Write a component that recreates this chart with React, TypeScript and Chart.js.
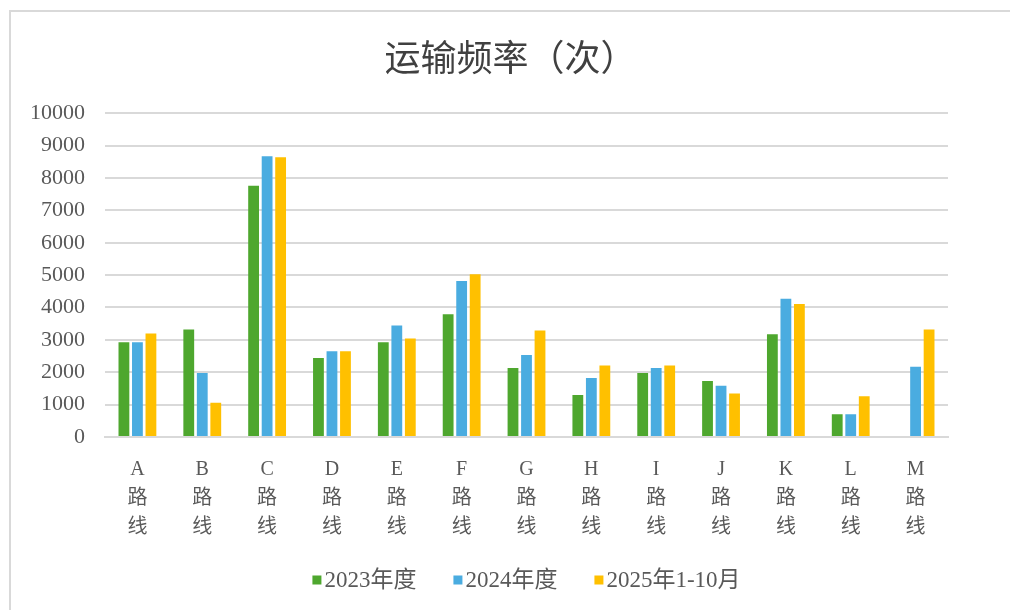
import React, { useEffect, useRef } from "react";
import { Chart, registerables } from "chart.js";

Chart.register(...registerables);

const routes = ["A", "B", "C", "D", "E", "F", "G", "H", "I", "J", "K", "L", "M"];
const routeSuffix = ["路", "线"];
const seriesNames = ["2023年度", "2024年度", "2025年1-10月"];
const values2023 = [2930, 3320, 7760, 2440, 2930, 3790, 2130, 1300, 1980, 1730, 3170, 700, null];
const values2024 = [2930, 1980, 8670, 2650, 3440, 4820, 2530, 1820, 2130, 1580, 4270, 700, 2170];
const values2025 = [3200, 1060, 8640, 2650, 3040, 5030, 3290, 2210, 2210, 1340, 4110, 1260, 3320];
const seriesColors = ["#4EA72E", "#4AACE0", "#FFC000"];
const titleText = "运输频率（次）";

const serif = '"Liberation Serif", "Noto Sans CJK SC", serif';

const customLegend = {
  id: "customLegend",
  afterDraw(chart: any) {
    const ctx = chart.ctx as CanvasRenderingContext2D;
    ctx.save();
    ctx.font = `23px ${serif}`;
    ctx.textBaseline = "middle";
    ctx.textAlign = "left";
    const box = 9;
    const gap = 3;
    const spacing = 37;
    const items = chart.data.datasets.map((d: any) => ({
      text: d.label as string,
      color: d.backgroundColor as string,
      w: ctx.measureText(d.label).width,
    }));
    const total =
      items.reduce((s: number, it: any) => s + box + gap + it.w, 0) + spacing * (items.length - 1);
    const area = chart.chartArea;
    let x = (area.left + area.right) / 2 - total / 2;
    const y = 568;
    for (const it of items) {
      ctx.fillStyle = it.color;
      ctx.fillRect(x, y - box / 2, box, box);
      x += box + gap;
      ctx.fillStyle = "#595959";
      ctx.fillText(it.text, x, y + 1);
      x += it.w + spacing;
    }
    ctx.restore();
  },
};

export default function App() {
  const ref = useRef<HTMLCanvasElement | null>(null);

  useEffect(() => {
    document.body.style.overflow = "hidden";
    const canvas = ref.current;
    if (!canvas) return;
    const chart = new Chart(canvas, {
      type: "bar",
      data: {
        labels: routes.map((r) => [r, ...routeSuffix]),
        datasets: [values2023, values2024, values2025].map((vals, i) => ({
          label: seriesNames[i],
          data: vals,
          backgroundColor: seriesColors[i],
          borderWidth: 0,
          barPercentage: 0.8,
          categoryPercentage: 0.625,
          yAxisID: "y",
        })),
      },
      options: {
        responsive: false,
        animation: false,
        devicePixelRatio: 1,
        layout: { padding: { left: 0, right: 0, top: 0, bottom: 60 } },
        plugins: {
          title: {
            display: true,
            text: titleText,
            color: "#404040",
            font: { family: '"Noto Sans CJK SC", sans-serif', size: 36, weight: "normal" },
            padding: { top: 24, bottom: 34 },
          },
          legend: { display: false },
          tooltip: { enabled: false },
        },
        scales: {
          x: {
            grid: { display: false, drawTicks: false },
            border: { display: true, color: "#D9D9D9", width: 2 },
            ticks: {
              color: "#595959",
              font: { family: serif, size: 20, lineHeight: 1.45 },
              padding: 18,
              maxRotation: 0,
              autoSkip: false,
            },
            afterFit: (scale: any) => {
              scale.height = 113;
            },
          },
          y: {
            min: 0,
            max: 10000,
            grid: { color: "#D9D9D9", lineWidth: 2, drawTicks: false },
            border: { display: false },
            ticks: {
              stepSize: 1000,
              color: "#595959",
              font: { family: serif, size: 22 },
              padding: 20,
              callback: (v: any) => String(v),
            },
            afterFit: (scale: any) => {
              scale.width = 94;
            },
          },
          y2: {
            type: "linear",
            position: "right",
            display: true,
            grid: { display: false, drawTicks: false },
            border: { display: false },
            ticks: { display: false },
            afterFit: (scale: any) => {
              scale.width = 62;
            },
          },
        },
      },
      plugins: [customLegend],
    });
    return () => chart.destroy();
  }, []);

  return (
    <div
      style={{
        position: "absolute",
        left: 9,
        top: 10,
        width: 1001,
        height: 600,
        borderTop: "2px solid #D9D9D9",
        borderLeft: "2px solid #D9D9D9",
        boxSizing: "border-box",
        background: "#fff",
      }}
    >
      <canvas ref={ref} width={999} height={598} style={{ display: "block" }} />
    </div>
  );
}
